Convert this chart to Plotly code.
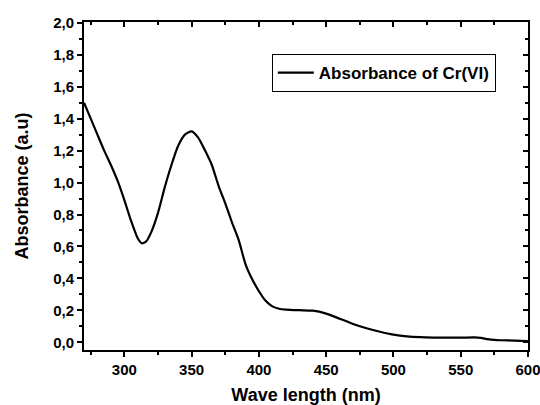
import plotly.graph_objects as go

wavelength = [270, 275, 280, 285, 290, 295, 300, 305, 310, 313, 316, 320, 325, 330, 335, 340, 345,
              350, 355, 360, 365, 370, 375, 380, 385, 390, 395, 400, 405, 410, 415, 420, 430, 440,
              450, 460, 470, 480, 490, 500, 510, 520, 530, 540, 550, 560, 565, 570, 575, 580, 590, 600]
absorbance = [1.50, 1.40, 1.30, 1.20, 1.11, 1.01, 0.89, 0.76, 0.65, 0.62, 0.63, 0.69, 0.81, 0.97,
              1.11, 1.23, 1.30, 1.32, 1.28, 1.20, 1.11, 0.98, 0.87, 0.75, 0.64, 0.49, 0.395, 0.32,
              0.26, 0.225, 0.21, 0.205, 0.201, 0.198, 0.18, 0.148, 0.115, 0.088, 0.066, 0.048,
              0.037, 0.032, 0.03, 0.029, 0.029, 0.031, 0.028, 0.02, 0.015, 0.013, 0.011, 0.008]

x_ticks = [300, 350, 400, 450, 500, 550, 600]
x_ticklabels = ["300", "350", "400", "450", "500", "550", "600"]
y_ticks = [0.0, 0.2, 0.4, 0.6, 0.8, 1.0, 1.2, 1.4, 1.6, 1.8, 2.0]
y_ticklabels = ["0,0", "0,2", "0,4", "0,6", "0,8", "1,0", "1,2", "1,4", "1,6", "1,8", "2,0"]

x_range = [270, 600]
y_range = [-0.048, 2.005]

FONT = "Liberation Sans, Arial, sans-serif"

fig = go.Figure()
fig.add_trace(go.Scatter(x=wavelength, y=absorbance, mode="lines",
                         line=dict(color="black", width=2.2, shape="spline", smoothing=0.6),
                         name="Absorbance of Cr(VI)"))
# invisible trace for the mirrored (top/right) axes with inward ticks
fig.add_trace(go.Scatter(x=wavelength, y=absorbance, mode="lines", xaxis="x2", yaxis="y2",
                         line=dict(color="rgba(0,0,0,0)"), showlegend=False, hoverinfo="skip"))

common = dict(showgrid=False, zeroline=False, showline=True, linecolor="black", linewidth=2,
              tickcolor="black", tickwidth=1.5, automargin=False)

fig.update_layout(
    width=540, height=405,
    margin=dict(l=84, r=12, t=22, b=55),
    paper_bgcolor="white", plot_bgcolor="white",
    font=dict(family=FONT, color="black", size=14, weight="bold"),
    showlegend=True,
    legend=dict(x=0.423, y=0.902, xanchor="left", yanchor="top",
                bordercolor="black", borderwidth=1, bgcolor="white",
                font=dict(family=FONT, size=17, weight="bold", color="black"),
                itemwidth=36, tracegroupgap=0),
    xaxis=dict(range=x_range, tickvals=x_ticks, ticktext=x_ticklabels, ticks="outside",
               ticklen=5, ticklabeloverflow="allow",
               minor=dict(dtick=25, tick0=0, ticks="outside", ticklen=3,
                          tickcolor="black", tickwidth=1.5),
               title=dict(text="Wave length (nm)", font=dict(size=18, weight="bold"), standoff=15),
               tickfont=dict(size=15, weight="bold"), **common),
    yaxis=dict(range=y_range, tickvals=y_ticks, ticktext=y_ticklabels, ticks="outside",
               ticklen=5, ticklabeloverflow="allow",
               minor=dict(dtick=0.1, tick0=0, ticks="outside", ticklen=3,
                          tickcolor="black", tickwidth=1.5),
               title=dict(text="Absorbance (a.u)", font=dict(size=18, weight="bold"), standoff=20),
               tickfont=dict(size=15, weight="bold"), **common),
    xaxis2=dict(range=x_range, overlaying="x", side="top", anchor="y2", tickvals=x_ticks,
                showticklabels=False, ticks="inside", ticklen=5,
                minor=dict(dtick=25, tick0=0, ticks="inside", ticklen=3,
                           tickcolor="black", tickwidth=1.5), **common),
    yaxis2=dict(range=y_range, overlaying="y", side="right", anchor="x2", tickvals=y_ticks,
                showticklabels=False, ticks="inside", ticklen=5,
                minor=dict(dtick=0.1, tick0=0, ticks="inside", ticklen=3,
                           tickcolor="black", tickwidth=1.5), **common),
)

fig.write_html("out.html", config={"displayModeBar": False},
               post_script="document.body.style.margin='0';document.body.style.padding='0';")
